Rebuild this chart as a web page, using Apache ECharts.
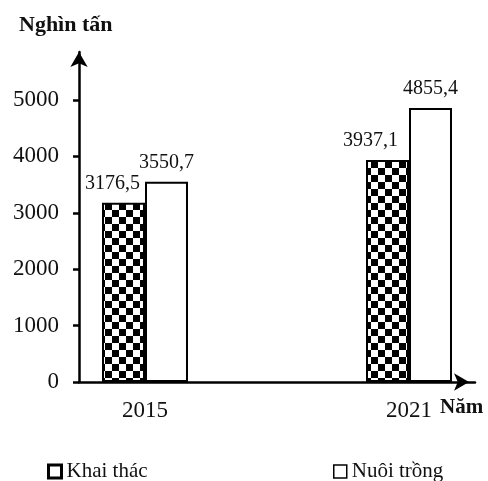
<!DOCTYPE html>
<html>
<head>
<meta charset="utf-8">
<script src="https://cdn.jsdelivr.net/npm/echarts@6/dist/echarts.min.js"></script>
<style>html,body{margin:0;padding:0;background:#fff}#c{width:488px;height:481px}</style>
</head>
<body>
<div id="c"></div>
<script>
// ---- data ----
const categories = ['2015', '', '2021'];
const khaiThac = [3176.5, null, 3937.1];
const nuoiTrong = [3550.7, null, 4855.4];
const yTicks = [0, 1000, 2000, 3000, 4000, 5000];
const seriesNames = ['Khai thác', 'Nuôi trồng'];
const yTitle = 'Nghìn tấn';
const xTitle = 'Năm';

// ---- styling helpers ----
const FONT = "'Liberation Serif', 'Times New Roman', serif";
const INK = '#111';
const khaiLabelShift = [-11, 0, -17];

function checker() {
  const c = document.createElement('canvas');
  c.width = 14; c.height = 14;
  const g = c.getContext('2d');
  g.fillStyle = '#fff'; g.fillRect(0, 0, 14, 14);
  g.fillStyle = '#000';
  g.fillRect(0, 0, 7, 7); g.fillRect(7, 7, 7, 7);
  return c;
}
const fmt = v => String(v).replace('.', ',');

const chart = echarts.init(document.getElementById('c'), null, { renderer: 'canvas' });
chart.setOption({
  animation: false,
  backgroundColor: '#fff',
  title: [
    { text: yTitle, left: 14, top: 9, textStyle: { fontFamily: FONT, fontWeight: 'bold', fontSize: 22, color: INK } },
    { text: xTitle, left: 435, top: 392, textStyle: { fontFamily: FONT, fontWeight: 'bold', fontSize: 21, color: INK } }
  ],
  legend: [
    { left: 42, top: 456, itemWidth: 13, itemHeight: 13, icon: 'rect',
      textStyle: { fontFamily: FONT, fontSize: 21, color: INK },
      data: [{ name: seriesNames[0], itemStyle: { color: '#fff', borderColor: '#000', borderWidth: 3 } }] },
    { left: 328, top: 456, itemWidth: 13, itemHeight: 13, icon: 'rect',
      textStyle: { fontFamily: FONT, fontSize: 21, color: INK },
      data: [{ name: seriesNames[1], itemStyle: { color: '#fff', borderColor: '#000', borderWidth: 1.5 } }] }
  ],
  grid: { left: 79, right: 13, top: 52, bottom: 99, outerBoundsMode: 'none' },
  xAxis: {
    type: 'category',
    data: categories,
    boundaryGap: true,
    axisLine: { show: true, symbol: ['none', 'arrow'], symbolSize: [13, 15], symbolOffset: [0, -6],
      lineStyle: { color: '#000', width: 2.5 } },
    axisTick: { show: false },
    axisLabel: { fontFamily: FONT, fontSize: 23, color: INK, margin: 17, interval: 0 },
    splitLine: { show: false }
  },
  yAxis: {
    type: 'value',
    min: 0, max: 5850, interval: 1000,
    axisLine: { show: true, symbol: ['none', 'arrow'], symbolSize: [13, 15],
      lineStyle: { color: '#000', width: 2.5 } },
    axisTick: { show: true, length: 6, customValues: yTicks, lineStyle: { color: '#000', width: 2.5 } },
    axisLabel: { fontFamily: FONT, fontSize: 23, color: INK, margin: 20, customValues: yTicks,
      formatter: v => String(v) },
    splitLine: { show: false }
  },
  series: [
    {
      name: seriesNames[0], type: 'bar', barWidth: 43, barGap: '0%',
      itemStyle: { color: { image: checker(), repeat: 'repeat' }, borderColor: '#000', borderWidth: 2 },
      label: { show: true, position: 'top', distance: 9, fontFamily: FONT, fontSize: 20, color: INK,
        formatter: p => fmt(p.value) },
      data: khaiThac.map((v, i) => ({ value: v, label: { offset: [khaiLabelShift[i], 0] } }))
    },
    {
      name: seriesNames[1], type: 'bar', barWidth: 43, barGap: '0%',
      itemStyle: { color: '#fff', borderColor: '#000', borderWidth: 2 },
      label: { show: true, position: 'top', distance: 9, fontFamily: FONT, fontSize: 20, color: INK,
        formatter: p => fmt(p.value) },
      data: nuoiTrong
    }
  ]
});
</script>
</body>
</html>
